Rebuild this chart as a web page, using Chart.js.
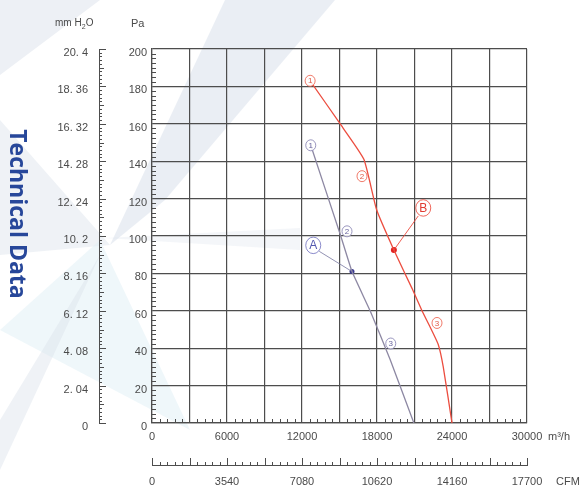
<!DOCTYPE html>
<html><head><meta charset="utf-8">
<script src="https://cdn.jsdelivr.net/npm/chart.js@4.4.0/dist/chart.umd.min.js"></script>
<style>html,body{margin:0;padding:0;background:#fff;}#wrap{width:582px;height:487px;}</style>
</head><body><div id="wrap"><canvas id="c" width="582" height="487"></canvas></div>
<script>
// ---- data ----
const flowGrid = [0,3000,6000,9000,12000,15000,18000,21000,24000,27000,30000];
const flowLabels = ['0','','6000','','12000','','18000','','24000','','30000'];
const paTicks = [0,20,40,60,80,100,120,140,160,180,200];
const paLabels = ['0','20','40','60','80','100','120','140','160','180','200'];
const mmTicks = [0,2.04,4.08,6.12,8.16,10.2,12.24,14.28,16.32,18.36,20.4];
const mmLabels = ['0','2. 04','4. 08','6. 12','8. 16','10. 2','12. 24','14. 28','16. 32','18. 36','20. 4'];
const cfmTicks = [0,3540,7080,10620,14160,17700];
const cfmLabels = ['0','3540','7080','10620','14160','17700'];

const redFlow = [12650,15100,16950,17970,19350,20800,21600,22200,22900,23300,24000];
const redPressure = [183,159.5,141,114,92.5,72,60,52,42,30,0];
const blueFlow = [12700,15100,16000,17450,19050,20950];
const bluePressure = [148.5,100,81,60,34,0];

const pointA = [16000,81];
const pointB = [19350,92.5];
const labelA = [12900,95];
const labelB = [21700,115];
const redMarkFlow = [12650,16800,22800];
const redMarkPressure = [183,132,53.5];
const blueMarkFlow = [12700,15600,19100];
const blueMarkPressure = [148.5,102.5,42.5];
const markText = ['1','2','3'];

// ---- style ----
const GRID = '#4d4d4d';
const TXT = '#4a4a4a';
const RED = '#ec4d3f';
const BLUE = '#8d88a3';
Chart.defaults.font.family = "'Liberation Sans', Arial, sans-serif";
Chart.defaults.font.size = 11;
Chart.defaults.color = TXT;

function poly(ctx, pts, fill){ctx.beginPath();pts.forEach((p,i)=>i?ctx.lineTo(p[0],p[1]):ctx.moveTo(p[0],p[1]));ctx.closePath();ctx.fillStyle=fill;ctx.fill();}

const decor = {
  id:'decor',
  beforeDraw(chart){
    const ctx = chart.ctx; ctx.save();
    ctx.fillStyle='#fff'; ctx.fillRect(0,0,chart.width,chart.height);
    poly(ctx,[[225,0],[335,0],[165,200],[110,245]],'rgba(214,221,233,0.5)');
    poly(ctx,[[0,0],[100,0],[0,75]],'rgba(214,221,233,0.45)');
    poly(ctx,[[0,120],[110,245],[0,255]],'rgba(220,226,236,0.45)');
    poly(ctx,[[100,240],[190,430],[0,330]],'rgba(226,240,246,0.55)');
    poly(ctx,[[0,420],[0,470],[100,255]],'rgba(220,226,236,0.45)');
    poly(ctx,[[105,238],[300,228],[300,250]],'rgba(220,226,236,0.3)');
    // Technical Data
    ctx.translate(10,214); ctx.rotate(Math.PI/2);
    ctx.font = "bold 23px 'Open Sans', sans-serif";
    ctx.fillStyle='#27479a'; ctx.textAlign='center'; ctx.textBaseline='alphabetic';
    ctx.fillText('Technical Data',0,0);
    ctx.restore();
  },
  afterDraw(chart){
    const ctx = chart.ctx, sx = chart.scales.x, sy = chart.scales.y, sm = chart.scales.yMM, sc = chart.scales.cfm;
    const a = chart.chartArea;
    ctx.save();
    ctx.strokeStyle = GRID; ctx.lineWidth = 1;
    ctx.beginPath();
    for(let i=0;i<=80;i++){ if(i%8===0) continue; const y=Math.round(sy.getPixelForValue(i*2.5))+0.5; ctx.moveTo(a.left,y); ctx.lineTo(a.left+4,y);}
    for(let i=0;i<=50;i++){ if(i%5===0) continue; const x=Math.round(sx.getPixelForValue(i*600))+0.5; ctx.moveTo(x,a.bottom); ctx.lineTo(x,a.bottom-4);}
    const mx = sm.right;
    for(let i=0;i<=100;i++){ const y=Math.round(sm.getPixelForValue(i*0.204))+0.5; const L = i%10===0?7:(i%5===0?5:3); ctx.moveTo(mx,y); ctx.lineTo(mx+L,y);}
    const cy = sc.top;
    for(let i=0;i<=50;i++){ const x=Math.round(sc.getPixelForValue(i*354))+0.5; const L = i%5===0?7:3; ctx.moveTo(x,cy); ctx.lineTo(x,cy-L);}
    ctx.stroke();

    ctx.fillStyle = TXT; ctx.textBaseline='alphabetic'; ctx.textAlign='left';
    ctx.font = "10px 'Liberation Sans', Arial, sans-serif";
    ctx.fillText('mm H',55,26);
    let w = ctx.measureText('mm H').width;
    ctx.font = "7px 'Liberation Sans', Arial, sans-serif";
    ctx.fillText('2',55+w,29);
    ctx.font = "10px 'Liberation Sans', Arial, sans-serif";
    ctx.fillText('O',55+w+4,26);
    ctx.font = "11px 'Liberation Sans', Arial, sans-serif";
    ctx.fillText('Pa',131,27);
    ctx.fillText('m³/h',548,440);
    ctx.fillText('CFM',556,485);

    const px = v=>sx.getPixelForValue(v), py = v=>sy.getPixelForValue(v);
    ctx.lineWidth = 1;
    ctx.strokeStyle = 'rgba(120,120,160,0.8)';
    ctx.beginPath(); ctx.moveTo(px(labelA[0])+6,py(labelA[1])+6); ctx.lineTo(px(pointA[0]),py(pointA[1])); ctx.stroke();
    ctx.strokeStyle = 'rgba(236,77,63,0.9)';
    ctx.beginPath(); ctx.moveTo(px(labelB[0])-5,py(labelB[1])+8); ctx.lineTo(px(pointB[0]),py(pointB[1])); ctx.stroke();

    function circ(x,y,r,t,col,font,fill){
      ctx.beginPath(); ctx.ellipse(x,y,r,r*1.1,0,0,Math.PI*2);
      ctx.fillStyle='rgba(255,255,255,0.85)'; ctx.fill();
      ctx.strokeStyle=col; ctx.lineWidth=1; ctx.stroke();
      ctx.fillStyle=fill; ctx.font=font; ctx.textAlign='center'; ctx.textBaseline='middle';
      ctx.fillText(t,x,y+0.5);
    }
    circ(px(labelA[0]),py(labelA[1]),7.5,'A','rgba(110,110,190,0.8)',"12px 'Liberation Sans', Arial, sans-serif",'#5358b0');
    circ(px(labelB[0]),py(labelB[1]),7.5,'B','rgba(236,77,63,0.85)',"12px 'Liberation Sans', Arial, sans-serif",'#e03a30');
    redMarkFlow.forEach((f,i)=>circ(px(f),py(redMarkPressure[i]),5,markText[i],'rgba(236,90,70,0.8)',"8px 'Liberation Sans', Arial, sans-serif",'#e05a48'));
    blueMarkFlow.forEach((f,i)=>circ(px(f),py(blueMarkPressure[i]),5,markText[i],'rgba(130,125,175,0.8)',"8px 'Liberation Sans', Arial, sans-serif",'#6a66a0'));
    ctx.restore();
  }
};

new Chart(document.getElementById('c'), {
  type:'line',
  data:{datasets:[
    {data:redFlow.map((f,i)=>({x:f,y:redPressure[i]})),borderColor:RED,borderWidth:1.3,pointRadius:0,tension:0.15,xAxisID:'x',yAxisID:'y'},
    {data:blueFlow.map((f,i)=>({x:f,y:bluePressure[i]})),borderColor:BLUE,borderWidth:1.3,pointRadius:0,tension:0.1,xAxisID:'x',yAxisID:'y'},
    {data:[{x:pointA[0],y:pointA[1]}],showLine:false,pointRadius:2.5,pointBackgroundColor:'#3b3b8f',pointBorderWidth:0,xAxisID:'x',yAxisID:'y'},
    {data:[{x:pointB[0],y:pointB[1]}],showLine:false,pointRadius:3,pointBackgroundColor:'#e02020',pointBorderWidth:0,xAxisID:'x',yAxisID:'y'}
  ]},
  options:{
    responsive:false, animation:false, events:[],
    layout:{padding:{left:49,right:55,top:49,bottom:0}},
    plugins:{legend:{display:false},tooltip:{enabled:false}},
    scales:{
      x:{type:'linear',position:'bottom',min:0,max:30000,weight:0,
        afterFit:s=>{s.height=42;},
        afterBuildTicks:s=>{s.ticks=flowGrid.map(v=>({value:v}));},
        ticks:{autoSkip:false,maxRotation:0,padding:7,callback:(v,i)=>flowLabels[i]},
        grid:{color:GRID,lineWidth:1.2,drawTicks:false},border:{color:GRID,width:1.2}},
      cfm:{type:'linear',position:'bottom',min:0,max:17700,weight:1,
        afterFit:s=>{s.height=22;},
        afterBuildTicks:s=>{s.ticks=cfmTicks.map(v=>({value:v}));},
        ticks:{autoSkip:false,maxRotation:0,padding:10,callback:(v,i)=>cfmLabels[i]},
        grid:{drawOnChartArea:false,drawTicks:false},border:{color:GRID,width:1}},
      y:{type:'linear',position:'left',min:0,max:200,weight:0,
        afterFit:s=>{s.width=53;},
        afterBuildTicks:s=>{s.ticks=paTicks.map(v=>({value:v}));},
        ticks:{autoSkip:false,padding:5,labelOffset:4,callback:(v,i)=>paLabels[i]},
        grid:{color:GRID,lineWidth:1.2,drawTicks:false},border:{color:GRID,width:1.2}},
      yMM:{type:'linear',position:'left',min:0,max:20.4,weight:1,
        afterFit:s=>{s.width=50;},
        afterBuildTicks:s=>{s.ticks=mmTicks.map(v=>({value:v}));},
        ticks:{autoSkip:false,padding:11,labelOffset:4,callback:(v,i)=>mmLabels[i]},
        grid:{drawOnChartArea:false,drawTicks:false},border:{color:GRID,width:1}}
    }
  },
  plugins:[decor]
});
</script></body></html>
